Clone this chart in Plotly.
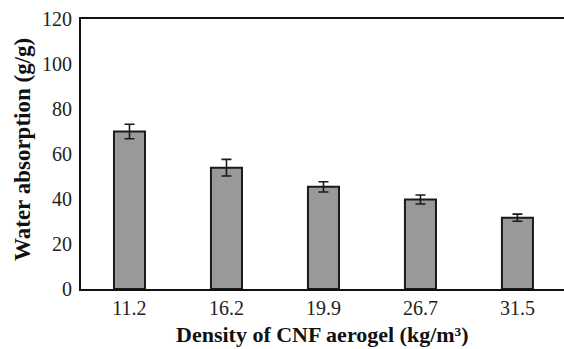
import plotly.graph_objects as go

categories = ["11.2", "16.2", "19.9", "26.7", "31.5"]
absorption = [70.0, 53.9, 45.4, 39.8, 31.7]
errors = [3.2, 3.7, 2.3, 2.0, 1.6]
y_ticks = [0, 20, 40, 60, 80, 100, 120]

font_family = "Liberation Serif, Times New Roman, serif"

fig = go.Figure()
fig.add_trace(go.Bar(
    x=list(range(len(categories))),
    y=absorption,
    width=0.32,
    marker=dict(color="#999999", line=dict(color="#1a1a1a", width=2)),
    error_y=dict(type="data", array=errors, visible=True, color="#1a1a1a",
                 thickness=1.6, width=5),
))

fig.update_layout(
    width=564, height=349,
    margin=dict(l=81, r=0, t=19, b=60),
    plot_bgcolor="white", paper_bgcolor="white",
    showlegend=False,
    font=dict(family=font_family, size=20, color="#222222"),
    xaxis=dict(
        range=[-0.5, 4.48],
        tickmode="array",
        tickvals=list(range(len(categories))),
        ticktext=categories,
        showline=True, linecolor="#111111", linewidth=2, mirror=True,
        ticks="", showgrid=False, zeroline=False,
        tickfont=dict(family=font_family, size=20, color="#222222"),
    ),
    yaxis=dict(
        range=[0, 120],
        tickvals=y_ticks,
        showline=True, linecolor="#111111", linewidth=2,
        ticks="", showgrid=False, zeroline=False,
        ticklabelstandoff=3,
        tickfont=dict(family=font_family, size=20, color="#222222"),
    ),
    annotations=[
        dict(text="<b>Density of CNF aerogel (kg/m³)</b>", xref="paper", yref="paper",
             x=0.5, y=-(334 - 289) / 270, xanchor="center", yanchor="middle",
             showarrow=False, font=dict(family=font_family, size=22, color="#111111")),
        dict(text="<b>Water absorption (g/g)</b>", xref="paper", yref="paper",
             x=-(81 - 22) / 483, y=(289 - 150) / 270, xanchor="center", yanchor="middle",
             textangle=-90, showarrow=False,
             font=dict(family=font_family, size=23, color="#111111")),
    ],
)

fig.write_html("out.html")
